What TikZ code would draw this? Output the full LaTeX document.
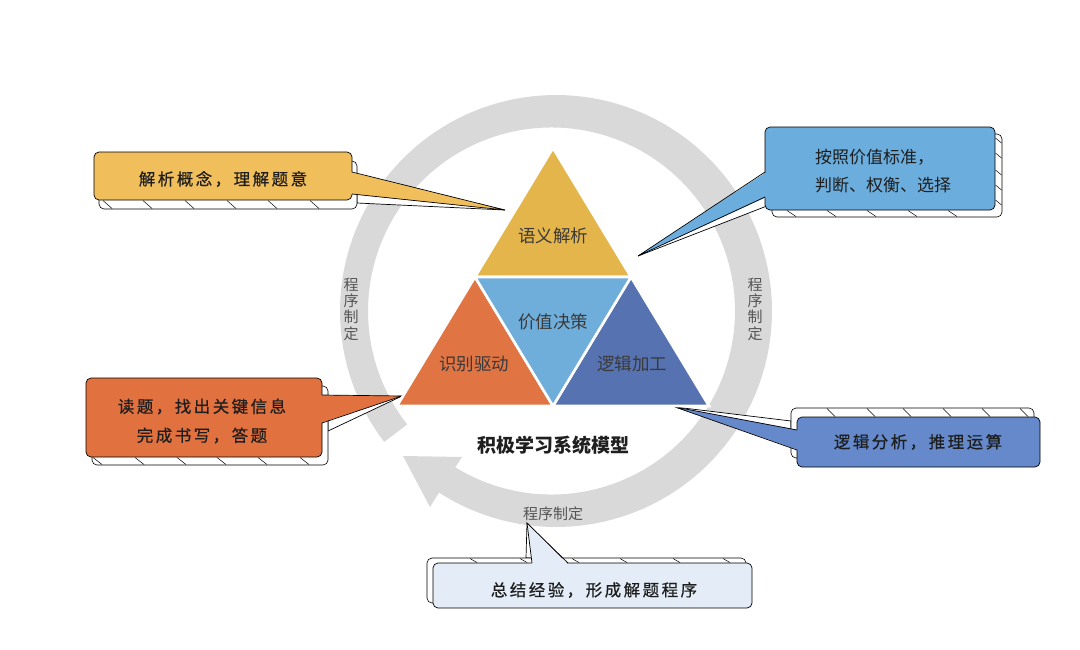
\documentclass[tikz,border=0pt]{standalone}
\usepackage{fontspec}
\newfontfamily\cjk{Noto Sans CJK SC}
\newfontfamily\cjksp[LetterSpace=15,FakeBold=0.6]{Noto Sans CJK SC}
\definecolor{ringgray}{HTML}{D9D9D9}
\definecolor{triY}{HTML}{E4B54A}
\definecolor{triLB}{HTML}{6FADDA}
\definecolor{triO}{HTML}{E07443}
\definecolor{triDB}{HTML}{5672B0}
\definecolor{boxY}{HTML}{F1BE5C}
\definecolor{boxB}{HTML}{6BADDC}
\definecolor{boxO}{HTML}{E1713F}
\definecolor{boxDB}{HTML}{6589CB}
\definecolor{boxL}{HTML}{E3ECF7}
\definecolor{txtdark}{HTML}{1E1E1E}
\definecolor{txttri}{HTML}{3A3A3A}
\definecolor{txtring}{HTML}{555555}
\tikzset{
  shadowbox/.style={fill=white,draw=black,line width=0.6pt,rounded corners=5pt},
  mainbox/.style={draw=black,line width=0.7pt,rounded corners=5pt},
  tick/.style={draw=black,line width=0.5pt},
  wedgeline/.style={draw=black,line width=0.7pt,line join=miter},
  tri/.style={draw=white,line width=2.6pt,line join=miter},
  boxtext/.style={font=\cjksp\fontsize{16.5}{29}\selectfont,text=txtdark,align=center,inner sep=0pt},
  tritext/.style={font=\cjk\fontsize{17.5}{20}\selectfont,text=txttri,inner sep=0pt},
  ringtext/.style={font=\cjk\fontsize{15}{16.3}\selectfont,text=txtring,align=center,inner sep=0pt},
}
\begin{document}
\begin{tikzpicture}[x=1pt,y=-1pt]
\useasboundingbox[fill=white] (0,0) rectangle (1080,649);

% ---- circular arrow ----
\fill[ringgray] plot[domain=217.3:-122.8,samples=150] ({556+216*cos(\x)},{311-216*sin(\x)})
  -- (430,507) -- (403,456) -- (462,457)
  -- plot[domain=-122.8:217.3,samples=150] ({556+(188-4.5*(cos(\x)+1))*cos(\x)},{311-(188-4.5*(cos(\x)+1))*sin(\x)}) -- cycle;

% ---- callout 1 (yellow, top left) ----
\coordinate (c1a) at (352,172); \coordinate (c1b) at (352,194); \coordinate (c1t) at (505,210);
\filldraw[fill=white,wedgeline] (357,181) -- (c1t) -- (357,203) -- cycle;
\draw[shadowbox] (99,161) rectangle (357,209);
\foreach \x in {103,143,185,227,268,310} \draw[tick] (\x,200.5) -- (\x+9,208.5);
\filldraw[fill=boxY,mainbox] (94,152) rectangle (352,200);
\fill[boxY] (350.5,172) -- (c1t) -- (350.5,194) -- cycle;
\draw[wedgeline] (c1a) -- (c1t) -- (c1b);
\node[boxtext] (t1) at (223,179) {解析概念，理解题意};

% ---- callout 2 (blue, top right) ----
\coordinate (c2a) at (765,172); \coordinate (c2b) at (765,197); \coordinate (c2t) at (638,256);
\filldraw[fill=white,wedgeline] (772,179) -- (c2t) -- (772,204) -- cycle;
\draw[shadowbox] (772,134) rectangle (1002,217);
\foreach \x in {787,827,867,908,948} \draw[tick] (\x,210.5) -- (\x+9,216.5);
\foreach \y in {138,153,170,185,200} \draw[tick] (995.5,\y) -- (1001.5,\y+5);
\filldraw[fill=boxB,mainbox] (765,127) rectangle (995,210);
\fill[boxB] (766.5,172) -- (c2t) -- (766.5,197) -- cycle;
\draw[wedgeline] (c2a) -- (c2t) -- (c2b);
\node[font=\cjk\fontsize{17}{28}\selectfont,text=txtdark,align=left,inner sep=0pt] (t2) at (883,171) {按照价值标准，\\判断、权衡、选择};

% ---- callout 3 (orange, bottom left) ----
\coordinate (c3a) at (322,395); \coordinate (c3b) at (322,423); \coordinate (c3t) at (402,396);
\filldraw[fill=white,wedgeline] (328,403) -- (c3t) -- (328,431) -- cycle;
\draw[shadowbox] (92,386) rectangle (328,465);
\foreach \x in {93,135,177,217,258,300} \draw[tick] (\x,457.5) -- (\x+9,464.5);
\filldraw[fill=boxO,mainbox] (86,378) rectangle (322,457);
\fill[boxO] (320.5,395) -- (c3t) -- (320.5,423) -- cycle;
\draw[wedgeline] (c3a) -- (c3t) -- (c3b);
\node[boxtext] (t3) at (202,421) {读题，找出关键信息\\完成书写，答题};

% ---- callout 4 (dark blue, bottom right) ----
\coordinate (c4a) at (797,430); \coordinate (c4b) at (797,450); \coordinate (c4t) at (675,407);
\filldraw[fill=white,wedgeline] (791,421) -- (c4t) -- (791,441) -- cycle;
\draw[shadowbox] (791,408) rectangle (1034,458);
\foreach \x in {827,867,903,943,982,1020} \draw[tick] (\x,408.5) -- (\x+8,416.5);
\filldraw[fill=boxDB,mainbox] (797,417) rectangle (1040,467);
\fill[boxDB] (798.5,430) -- (c4t) -- (798.5,450) -- cycle;
\draw[wedgeline] (c4a) -- (c4t) -- (c4b);
\node[boxtext] (t4) at (918,442) {逻辑分析，推理运算};

% ---- callout 5 (light, bottom) ----
\coordinate (c5a) at (532,563); \coordinate (c5b) at (568,563); \coordinate (c5t) at (527,523);
\filldraw[fill=white,wedgeline] (526,558) -- (c5t) -- (562,558) -- cycle;
\draw[shadowbox] (427,558) rectangle (746,603);
\foreach \x in {470,520,572,620,673,723} \draw[tick] (\x,558.5) -- (\x+7,562.5);
\filldraw[fill=boxL,mainbox] (433,563) rectangle (752,608);
\fill[boxL] (532,564.5) -- (c5t) -- (568,564.5) -- cycle;
\draw[wedgeline] (c5a) -- (c5t) -- (c5b);
\node[boxtext] (t5) at (594,590) {总结经验，形成解题程序};

% ---- triangles ----
\coordinate (A) at (553,148); \coordinate (B) at (397,406); \coordinate (C) at (709,406);
\coordinate (AB) at (475,277); \coordinate (AC) at (631,277); \coordinate (BC) at (553,406);
\filldraw[tri,fill=triY] (A) -- (AC) -- (AB) -- cycle;
\filldraw[tri,fill=triO] (AB) -- (BC) -- (B) -- cycle;
\filldraw[tri,fill=triDB] (AC) -- (C) -- (BC) -- cycle;
\filldraw[tri,fill=triLB] (AB) -- (AC) -- (BC) -- cycle;
\node[tritext] (n1) at (553,236) {语义解析};
\node[tritext] (n2) at (553,322) {价值决策};
\node[tritext] (n3) at (474,364) {识别驱动};
\node[tritext] (n4) at (632,364) {逻辑加工};

% ---- title and ring labels ----
\node[font=\cjk\bfseries\fontsize{19}{22}\selectfont,text=black!88,inner sep=0pt] (title) at (553,445) {积极学习系统模型};
\node[ringtext] (r1) at (351,309) {程\\序\\制\\定};
\node[ringtext] (r2) at (755,309) {程\\序\\制\\定};
\node[ringtext] (r3) at (553,514) {程序制定};
\end{tikzpicture}
\end{document}
